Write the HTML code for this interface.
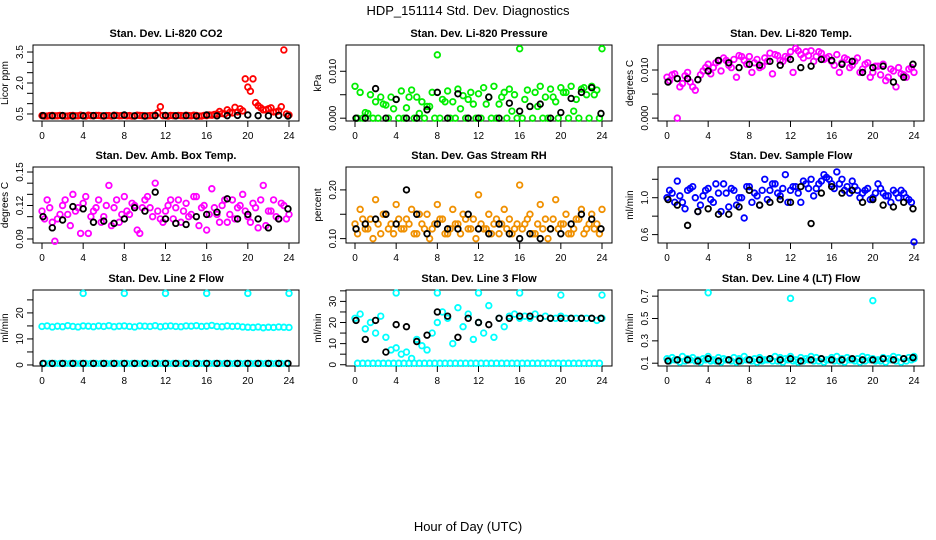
<!DOCTYPE html>
<html><head><meta charset="utf-8"><style>
html,body{margin:0;padding:0;background:#fff;}
svg{display:block;font-family:"Liberation Sans",Arial,sans-serif;}
</style></head><body>
<svg id="chart" width="936" height="540" viewBox="0 0 936 540">
<text x="468" y="15" font-size="13" text-anchor="middle">HDP_151114  Std. Dev. Diagnostics</text>
<text x="468" y="531" font-size="13" text-anchor="middle">Hour of Day (UTC)</text>
</svg>
<script>
const hoursA=[0,0.5,1,1.5,2,2.5,3,3.5,4,4.5,5,5.5,6,6.5,7,7.5,8,8.5,9,9.5,10,10.5,11,11.5,12,12.5,13,13.5,14,14.5,15,15.5,16,16.5,17,17.5,18,18.5,19,19.5,20,20.5,21,21.5,22,22.5,23,23.5,24];
const hoursB=[0.25,0.75,1.25,1.75,2.25,2.75,3.25,3.75,4.25,4.75,5.25,5.75,6.25,6.75,7.25,7.75,8.25,8.75,9.25,9.75,10.25,10.75,11.25,11.75,12.25,12.75,13.25,13.75,14.25,14.75,15.25,15.75,16.25,16.75,17.25,17.75,18.25,18.75,19.25,19.75,20.25,20.75,21.25,21.75,22.25,22.75,23.25,23.75];
const hoursK=[0.1,1,2,3,4,5,6,7,8,9,10,11,12,13,14,15,16,17,18,19,20,21,22,23,23.9];
const hoursOut=[4,8,12,16,20,24];
const xTicks=[0,4,8,12,16,20,24];

const co2A=[0.42,0.4,0.43,0.41,0.42,0.4,0.43,0.41,0.42,0.44,0.41,0.43,0.4,0.42,0.44,0.41,0.43,0.42,0.4,0.43,0.41,0.42,0.44,0.85,0.42,0.43,0.41,0.42,0.44,0.41,0.43,0.4,0.42,0.44,0.5,0.52,0.7,0.55,0.6,0.65,1.8,2.2,0.9,0.7,0.75,0.6,0.65,3.6,0.45];
const co2B=[0.4,0.42,0.41,0.43,0.4,0.42,0.41,0.44,0.4,0.42,0.43,0.41,0.42,0.4,0.43,0.42,0.41,0.4,0.44,0.42,0.41,0.43,0.55,0.42,0.4,0.42,0.43,0.41,0.42,0.44,0.4,0.43,0.45,0.48,0.62,0.5,0.58,0.82,0.75,2.2,1.6,1.05,0.8,0.7,0.8,0.6,0.85,0.5];
const co2K=[0.42,0.41,0.42,0.4,0.41,0.42,0.41,0.42,0.45,0.41,0.4,0.42,0.43,0.41,0.42,0.4,0.45,0.41,0.42,0.43,0.45,0.42,0.41,0.43,0.4];

const presA=[0.0068,0.0055,0.0012,0.005,0.0035,0.0045,0.0028,0.0045,0.004,0.0058,0.0022,0.006,0.0045,0.0035,0.0025,0.0055,0.0135,0.004,0.0058,0.0035,0.0062,0.0048,0.004,0.003,0.0052,0.0065,0.0045,0.0068,0.003,0.0055,0.0062,0.005,0.0148,0.004,0.0025,0.0055,0.0068,0.0045,0.0062,0.0035,0.0065,0.0055,0.0068,0.004,0.0062,0.005,0.0068,0.006,0.0148];
const presB=[0,0,0.001,0,0,0.003,0,0.002,0,0,0.0045,0,0.001,0,0.0025,0,0,0.0035,0,0,0.002,0,0.0055,0,0,0.003,0,0,0.0045,0,0.0015,0,0,0.006,0,0.0025,0,0,0.0045,0,0.0055,0,0.0015,0,0.0065,0,0.005,0];
const presK=[0,0,0.0063,0,0.004,0,0,0.0018,0.0055,0,0.0052,0,0,0.0045,0,0.0032,0.0015,0.0025,0.003,0,0.0012,0.0042,0.0055,0.0065,0.001];

const tempA=[0.0085,0.009,0.0,0.0072,0.0095,0.0065,0.008,0.0098,0.0112,0.0105,0.0118,0.0125,0.011,0.0122,0.013,0.012,0.0128,0.0115,0.0105,0.0125,0.0135,0.0132,0.012,0.0128,0.0138,0.0145,0.0132,0.0138,0.014,0.0128,0.0135,0.0125,0.0118,0.0132,0.0115,0.0122,0.011,0.0125,0.0102,0.0115,0.0095,0.0108,0.0112,0.0085,0.0098,0.0105,0.009,0.0102,0.0095];
const tempB=[0.0078,0.0092,0.0065,0.0088,0.0075,0.0058,0.009,0.0105,0.0092,0.0115,0.0098,0.012,0.0105,0.0085,0.0128,0.0112,0.0095,0.0122,0.0108,0.0118,0.0092,0.013,0.0118,0.0125,0.0095,0.014,0.0125,0.013,0.0118,0.0138,0.0122,0.0128,0.011,0.0095,0.0125,0.0105,0.0118,0.0095,0.0112,0.0085,0.0108,0.009,0.0078,0.0102,0.0065,0.0092,0.0085,0.0105];
const tempK=[0.0075,0.0082,0.0082,0.008,0.0098,0.012,0.0115,0.0105,0.0112,0.011,0.0118,0.011,0.0122,0.0105,0.0108,0.0122,0.012,0.0112,0.0118,0.0095,0.0105,0.0108,0.0075,0.0085,0.0112];

const ambA=[0.115,0.125,0.105,0.108,0.12,0.112,0.13,0.118,0.122,0.095,0.115,0.125,0.11,0.138,0.118,0.105,0.128,0.112,0.12,0.095,0.125,0.118,0.14,0.108,0.115,0.125,0.118,0.105,0.122,0.112,0.128,0.118,0.098,0.135,0.112,0.12,0.105,0.125,0.118,0.13,0.11,0.122,0.1,0.138,0.115,0.125,0.108,0.12,0.112];
const ambB=[0.108,0.118,0.088,0.112,0.125,0.102,0.115,0.095,0.128,0.11,0.118,0.105,0.12,0.102,0.125,0.112,0.115,0.122,0.098,0.118,0.128,0.11,0.115,0.105,0.12,0.108,0.125,0.115,0.11,0.128,0.102,0.12,0.112,0.118,0.105,0.125,0.112,0.108,0.12,0.115,0.105,0.118,0.125,0.102,0.115,0.11,0.122,0.108];
const ambK=[0.11,0.1,0.107,0.119,0.117,0.105,0.106,0.104,0.108,0.118,0.115,0.132,0.108,0.104,0.103,0.11,0.112,0.114,0.126,0.108,0.112,0.108,0.1,0.108,0.117];

const rhA=[0.13,0.16,0.12,0.14,0.18,0.11,0.15,0.13,0.17,0.12,0.14,0.16,0.11,0.13,0.15,0.12,0.17,0.14,0.11,0.16,0.13,0.15,0.12,0.14,0.19,0.12,0.15,0.13,0.11,0.16,0.14,0.12,0.21,0.13,0.15,0.11,0.17,0.14,0.12,0.18,0.13,0.15,0.11,0.14,0.16,0.12,0.15,0.13,0.16];
const rhB=[0.11,0.14,0.12,0.1,0.13,0.15,0.12,0.11,0.14,0.12,0.13,0.11,0.15,0.12,0.1,0.13,0.14,0.11,0.12,0.13,0.11,0.14,0.12,0.1,0.13,0.12,0.11,0.14,0.13,0.12,0.11,0.13,0.12,0.14,0.11,0.13,0.12,0.1,0.14,0.12,0.13,0.11,0.12,0.14,0.11,0.13,0.12,0.11];
const rhK=[0.12,0.13,0.14,0.15,0.13,0.2,0.15,0.11,0.13,0.12,0.12,0.15,0.12,0.11,0.13,0.11,0.1,0.11,0.1,0.12,0.11,0.13,0.15,0.14,0.12];

const flowA=[1.0,1.05,1.18,0.95,1.08,1.12,0.85,1.02,1.1,0.95,1.05,1.15,0.9,1.08,1.0,0.78,1.12,1.05,0.92,1.2,1.08,1.15,1.02,1.25,1.08,1.12,0.95,1.15,1.2,1.1,1.18,1.22,1.15,1.28,1.2,1.12,1.18,1.08,1.05,1.1,1.0,1.15,1.05,1.02,1.08,1.0,1.05,0.98,0.52];
const flowB=[1.08,0.95,1.02,0.88,1.1,1.0,0.92,1.08,0.98,1.15,0.85,1.05,1.1,0.92,1.0,1.12,0.95,1.02,1.08,0.98,1.15,1.05,1.1,0.95,1.12,1.05,1.18,1.1,1.02,1.15,1.25,1.2,1.1,1.15,1.08,1.05,1.12,1.0,1.08,0.98,1.05,1.1,1.02,0.95,1.05,1.08,1.0,0.95];
const flowK=[0.98,0.92,0.7,0.85,0.88,0.82,0.82,0.9,1.08,0.92,0.95,0.98,0.95,1.12,0.72,1.05,1.12,1.05,1.08,0.95,0.98,0.92,0.9,0.95,0.88];

const l2A=[14.8,15.0,14.6,14.9,14.7,15.1,14.8,14.6,15.0,14.9,14.7,15.0,14.8,15.1,14.7,14.9,15.0,14.8,14.6,15.0,14.9,14.8,15.1,14.7,14.9,15.0,14.8,14.7,15.0,14.9,15.1,14.8,14.9,15.2,14.8,14.7,15.0,14.8,14.9,14.6,14.5,14.4,14.6,14.3,14.5,14.4,14.6,14.5,14.4];
const l2B=[0.6,0.6,0.6,0.6,0.6,0.6,0.6,0.6,0.6,0.6,0.6,0.6,0.6,0.6,0.6,0.6,0.6,0.6,0.6,0.6,0.6,0.6,0.6,0.6,0.6,0.6,0.6,0.6,0.6,0.6,0.6,0.6,0.6,0.6,0.6,0.6,0.6,0.6,0.6,0.6,0.6,0.6,0.6,0.6,0.6,0.6,0.6,0.6];
const l2K=[0.6,0.6,0.6,0.6,0.6,0.6,0.6,0.6,0.6,0.6,0.6,0.6,0.6,0.6,0.6,0.6,0.6,0.6,0.6,0.6,0.6,0.6,0.6,0.6,0.6];
const l2Out=[27.5,27.5,27.5,27.5,27.5,27.5];

const l3A=[22,24,17,20,15,23,13,7,8,5,6,3,12,9,7,15,20,25,22,10,27,18,24,12,20,15,28,13,22,18,23,24,22,23,22,24,22,23,22,22,23,22,22,22,22,22,22,21,22];
const l3B=[0.7,0.7,0.7,0.7,0.7,0.7,0.7,0.7,0.7,0.7,0.7,0.7,0.7,0.7,0.7,0.7,0.7,0.7,0.7,0.7,0.7,0.7,0.7,0.7,0.7,0.7,0.7,0.7,0.7,0.7,0.7,0.7,0.7,0.7,0.7,0.7,0.7,0.7,0.7,0.7,0.7,0.7,0.7,0.7,0.7,0.7,0.7,0.7];
const l3K=[21,12,21,6,19,18,11,14,25,23,13,22,20,19,22,22,23,23,22,22,22,22,22,22,22];
const l3Out=[34,34,34,34,33,33];

const l4A=[0.14,0.15,0.13,0.16,0.14,0.15,0.13,0.14,0.16,0.13,0.15,0.14,0.13,0.15,0.14,0.16,0.13,0.14,0.15,0.13,0.14,0.16,0.15,0.14,0.16,0.13,0.15,0.14,0.16,0.15,0.14,0.13,0.15,0.16,0.14,0.15,0.13,0.14,0.16,0.15,0.14,0.13,0.15,0.14,0.16,0.15,0.14,0.15,0.16];
const l4B=[0.12,0.13,0.11,0.12,0.13,0.12,0.11,0.13,0.12,0.12,0.11,0.13,0.12,0.11,0.12,0.13,0.12,0.11,0.12,0.13,0.12,0.12,0.11,0.13,0.12,0.11,0.12,0.13,0.12,0.12,0.11,0.13,0.12,0.12,0.11,0.13,0.12,0.11,0.12,0.13,0.12,0.12,0.11,0.13,0.12,0.11,0.12,0.13];
const l4K=[0.12,0.13,0.13,0.12,0.14,0.12,0.13,0.12,0.13,0.13,0.14,0.13,0.14,0.12,0.13,0.14,0.13,0.13,0.14,0.13,0.13,0.14,0.13,0.14,0.15];
const l4Out=[0.73,0.13,0.68,0.13,0.66,0.14];

const panels=[
 {name:'co2',title:'Stan. Dev. Li-820 CO2',yl:'Licor ppm',col:0,row:0,lim:[0.16,3.84],ticks:[0.5,1,1.5,2,2.5,3,3.5],labs:['0.5','','','2.0','','','3.5'],c:'#ff0000',A:co2A,B:co2B,K:co2K},
 {name:'pressure',title:'Stan. Dev. Li-820 Pressure',yl:'kPa',col:1,row:0,lim:[-0.0006,0.0156],ticks:[0,0.005,0.01],labs:['0.000','','0.010'],c:'#00ee00',A:presA,B:presB,K:presK},
 {name:'temp',title:'Stan. Dev. Li-820 Temp.',yl:'degrees C',col:2,row:0,lim:[-0.0006,0.0152],ticks:[0,0.005,0.01],labs:['0.000','','0.010'],c:'#ff00ff',A:tempA,B:tempB,K:tempK},
 {name:'amb-box',title:'Stan. Dev. Amb. Box Temp.',yl:'degrees C',col:0,row:1,lim:[0.0864,0.1545],ticks:[0.09,0.1,0.11,0.12,0.13,0.14,0.15],labs:['0.09','','','0.12','','','0.15'],c:'#ff00ff',A:ambA,B:ambB,K:ambK},
 {name:'rh',title:'Stan. Dev. Gas Stream RH',yl:'percent',col:1,row:1,lim:[0.091,0.247],ticks:[0.1,0.15,0.2],labs:['0.10','','0.20'],c:'#f09000',A:rhA,B:rhB,K:rhK},
 {name:'sample-flow',title:'Stan. Dev. Sample Flow',yl:'ml/min',col:2,row:1,lim:[0.509,1.333],ticks:[0.6,0.8,1.0,1.2],labs:['0.6','','1.0',''],c:'#0000ff',A:flowA,B:flowB,K:flowK},
 {name:'line2',title:'Stan. Dev. Line 2 Flow',yl:'ml/min',col:0,row:2,lim:[-0.4,28.8],ticks:[0,5,10,15,20,25],labs:['0','','10','','20',''],c:'#00ffff',A:l2A,B:l2B,K:l2K,O:l2Out},
 {name:'line3',title:'Stan. Dev. Line 3 Flow',yl:'ml/min',col:1,row:2,lim:[-0.6,35.4],ticks:[0,5,10,15,20,25,30,35],labs:['0','','10','','20','','30',''],c:'#00ffff',A:l3A,B:l3B,K:l3K,O:l3Out},
 {name:'line4',title:'Stan. Dev. Line 4 (LT) Flow',yl:'ml/min',col:2,row:2,lim:[0.075,0.755],ticks:[0.1,0.3,0.5,0.7],labs:['0.1','0.3','0.5','0.7'],c:'#00ffff',A:l4A,B:l4B,K:l4K,O:l4Out}
];

const NS='http://www.w3.org/2000/svg';
const svg=document.getElementById('chart');
function mk(tag,attrs,parent){const e=document.createElementNS(NS,tag);for(const k in attrs)e.setAttribute(k,attrs[k]);(parent||svg).appendChild(e);return e;}
const colLeft=[33,346,658], rowTop=[45,167,290], W=266, H=76;

panels.forEach(p=>{
 const L=colLeft[p.col], T=rowTop[p.row], B=T+H;
 const g=mk('g',{});
 
 
 const xs=h=>L+9+h*(247/24);
 const ys=v=>B-(v-p.lim[0])/(p.lim[1]-p.lim[0])*H;
 const t=mk('text',{x:L+W/2,y:T-8,'font-size':11,'font-weight':'bold','text-anchor':'middle'},g);
 t.textContent=p.title;
 
 
 const box=mk('rect',{x:L,y:T,width:W,height:H,fill:'none',stroke:'#000','stroke-width':1},g);
 
 
 const xa=mk('g',{},g);
 
 
 xTicks.forEach(h=>{
  mk('line',{x1:xs(h),x2:xs(h),y1:B,y2:B+6,stroke:'#000'},xa);
  const tl=mk('text',{x:xs(h),y:B+18,'font-size':10,'text-anchor':'middle'},xa);
  tl.textContent=h;
  
  
 });
 const ya=mk('g',{},g);
 
 
 p.ticks.forEach((v,i)=>{
  const y=ys(v);
  mk('line',{x1:L-6,x2:L,y1:y,y2:y,stroke:'#000'},ya);
  if(p.labs[i]){
   const tl=mk('text',{x:0,y:0,'font-size':10,'text-anchor':'middle',transform:`translate(${L-10},${y}) rotate(-90)`},ya);
   tl.textContent=p.labs[i];
   
   
  }
 });
 const yt=mk('text',{x:0,y:0,'font-size':10,'text-anchor':'middle',transform:`translate(${L-25},${(T+B)/2}) rotate(-90)`},g);
 yt.textContent=p.yl;
 
 
 const pts=mk('g',{fill:'none','stroke-width':1.8},g);
 
 
 function draw(hs,vs,color){
  vs.forEach((v,i)=>{
   if(i>=hs.length)return;
   const c=mk('circle',{cx:xs(hs[i]),cy:ys(v),r:2.8,stroke:color},pts);
   
   
  });
 }
 draw(hoursA,p.A,p.c);
 draw(hoursB,p.B,p.c);
 if(p.O)draw(hoursOut,p.O,p.c);
 draw(hoursK,p.K,'#000');
});
</script>
</body></html>
